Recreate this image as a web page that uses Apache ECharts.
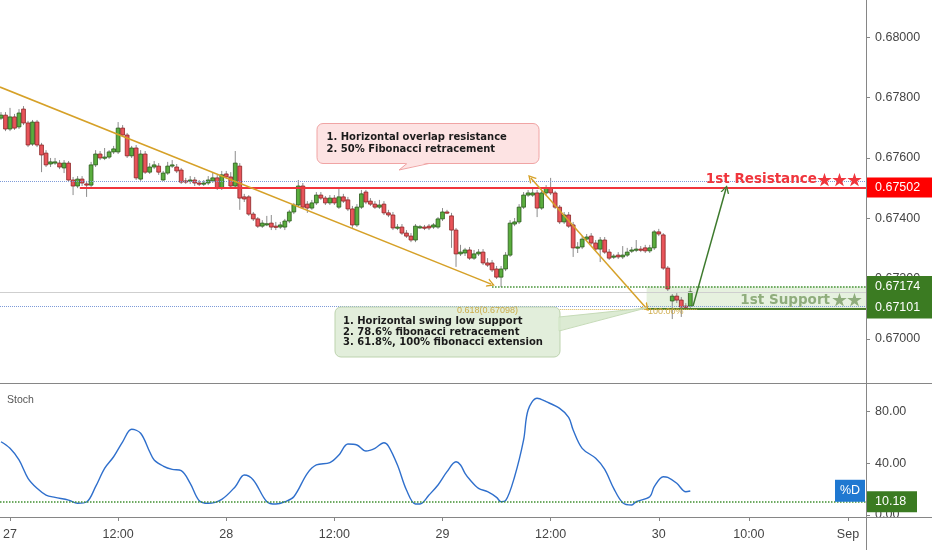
<!DOCTYPE html>
<html><head><meta charset="utf-8">
<script src="https://cdn.jsdelivr.net/npm/echarts@6/dist/echarts.min.js"></script>
<style>html,body{margin:0;padding:0;background:#fff}#c{width:932px;height:550px}</style>
</head><body><div id="c"></div>
<script>
// ---- data: 30-minute bars, index counted from 27 00:00 ----
const firstIndex = -2;
// [open, close, low, high]
const candles = [
[0.67732,0.67742,0.67726,0.67752],[0.67742,0.67696,0.67689,0.67752],[0.67696,0.67736,0.67689,0.67766],[0.67736,0.67699,0.67693,0.67746],
[0.67703,0.67749,0.67696,0.67762],[0.67762,0.67716,0.67709,0.67772],[0.67716,0.67643,0.67636,0.67723],[0.67646,0.67719,0.67640,0.67726],
[0.67719,0.67643,0.67636,0.67726],[0.67643,0.67610,0.67553,0.67650],[0.67616,0.67577,0.67570,0.67626],[0.67580,0.67587,0.67570,0.67600],
[0.67583,0.67587,0.67577,0.67600],[0.67583,0.67570,0.67563,0.67593],[0.67567,0.67583,0.67550,0.67593],[0.67583,0.67527,0.67520,0.67590],
[0.67527,0.67507,0.67477,0.67537],[0.67507,0.67530,0.67500,0.67540],[0.67530,0.67517,0.67507,0.67540],[0.67514,0.67510,0.67471,0.67524],
[0.67510,0.67577,0.67504,0.67587],[0.67577,0.67613,0.67570,0.67626],[0.67613,0.67600,0.67593,0.67623],[0.67600,0.67603,0.67593,0.67633],
[0.67603,0.67620,0.67597,0.67626],[0.67620,0.67630,0.67613,0.67640],[0.67620,0.67699,0.67613,0.67719],[0.67699,0.67676,0.67670,0.67709],
[0.67676,0.67607,0.67600,0.67683],[0.67607,0.67633,0.67600,0.67640],[0.67633,0.67534,0.67527,0.67643],[0.67530,0.67613,0.67524,0.67626],
[0.67613,0.67553,0.67547,0.67623],[0.67553,0.67570,0.67547,0.67583],[0.67570,0.67577,0.67563,0.67590],[0.67573,0.67553,0.67544,0.67583],
[0.67527,0.67550,0.67524,0.67557],[0.67550,0.67573,0.67544,0.67587],[0.67573,0.67577,0.67567,0.67593],[0.67570,0.67557,0.67550,0.67580],
[0.67560,0.67520,0.67514,0.67567],[0.67524,0.67520,0.67514,0.67534],[0.67524,0.67527,0.67514,0.67540],[0.67527,0.67517,0.67507,0.67537],
[0.67517,0.67514,0.67507,0.67527],[0.67514,0.67517,0.67507,0.67527],[0.67517,0.67527,0.67510,0.67540],[0.67524,0.67534,0.67517,0.67553],
[0.67534,0.67500,0.67494,0.67544],[0.67500,0.67544,0.67494,0.67557],[0.67547,0.67537,0.67530,0.67557],[0.67537,0.67507,0.67500,0.67553],
[0.67507,0.67583,0.67500,0.67623],[0.67573,0.67467,0.67428,0.67583],[0.67471,0.67464,0.67454,0.67481],[0.67471,0.67414,0.67408,0.67477],
[0.67414,0.67398,0.67391,0.67421],[0.67398,0.67374,0.67368,0.67404],[0.67374,0.67384,0.67368,0.67394],[0.67381,0.67382,0.67374,0.67408],
[0.67384,0.67371,0.67361,0.67411],[0.67374,0.67371,0.67361,0.67388],[0.67371,0.67378,0.67365,0.67388],[0.67371,0.67391,0.67361,0.67398],
[0.67391,0.67421,0.67384,0.67428],[0.67421,0.67444,0.67414,0.67451],[0.67444,0.67507,0.67437,0.67527],[0.67507,0.67437,0.67431,0.67517],
[0.67447,0.67434,0.67418,0.67457],[0.67434,0.67451,0.67428,0.67461],[0.67451,0.67477,0.67444,0.67487],[0.67477,0.67467,0.67461,0.67487],
[0.67467,0.67451,0.67444,0.67474],[0.67451,0.67467,0.67444,0.67477],[0.67467,0.67451,0.67444,0.67477],[0.67437,0.67471,0.67431,0.67500],
[0.67471,0.67457,0.67451,0.67481],[0.67461,0.67431,0.67424,0.67471],[0.67431,0.67378,0.67368,0.67441],[0.67378,0.67437,0.67371,0.67447],
[0.67437,0.67481,0.67431,0.67494],[0.67487,0.67454,0.67447,0.67494],[0.67457,0.67447,0.67441,0.67467],[0.67447,0.67437,0.67431,0.67457],
[0.67437,0.67444,0.67431,0.67461],[0.67447,0.67418,0.67411,0.67457],[0.67418,0.67411,0.67404,0.67428],[0.67411,0.67368,0.67361,0.67421],
[0.67368,0.67371,0.67361,0.67381],[0.67371,0.67351,0.67345,0.67381],[0.67351,0.67341,0.67335,0.67361],[0.67341,0.67328,0.67321,0.67351],
[0.67328,0.67374,0.67321,0.67381],[0.67371,0.67372,0.67365,0.67378],[0.67371,0.67368,0.67361,0.67378],[0.67374,0.67368,0.67361,0.67381],
[0.67371,0.67378,0.67365,0.67384],[0.67371,0.67398,0.67365,0.67404],[0.67398,0.67421,0.67391,0.67434],[0.67421,0.67420,0.67414,0.67428],
[0.67408,0.67361,0.67302,0.67418],[0.67361,0.67282,0.67239,0.67368],[0.67282,0.67288,0.67275,0.67312],[0.67285,0.67295,0.67275,0.67302],
[0.67295,0.67268,0.67262,0.67305],[0.67268,0.67282,0.67262,0.67295],[0.67282,0.67288,0.67275,0.67298],[0.67288,0.67252,0.67245,0.67298],
[0.67252,0.67245,0.67239,0.67268],[0.67252,0.67229,0.67222,0.67262],[0.67232,0.67205,0.67199,0.67242],[0.67205,0.67232,0.67172,0.67242],
[0.67232,0.67278,0.67225,0.67288],[0.67278,0.67384,0.67272,0.67394],[0.67381,0.67388,0.67374,0.67401],[0.67388,0.67437,0.67381,0.67447],
[0.67437,0.67477,0.67431,0.67487],[0.67477,0.67484,0.67471,0.67494],[0.67477,0.67484,0.67471,0.67500],[0.67484,0.67434,0.67404,0.67494],
[0.67434,0.67484,0.67428,0.67494],[0.67484,0.67500,0.67477,0.67510],[0.67500,0.67484,0.67477,0.67534],[0.67484,0.67437,0.67431,0.67491],
[0.67437,0.67388,0.67381,0.67444],[0.67388,0.67411,0.67381,0.67421],[0.67411,0.67374,0.67368,0.67421],[0.67378,0.67302,0.67272,0.67388],
[0.67302,0.67305,0.67285,0.67321],[0.67305,0.67331,0.67298,0.67341],[0.67331,0.67338,0.67328,0.67348],[0.67341,0.67318,0.67312,0.67351],
[0.67318,0.67298,0.67292,0.67328],[0.67298,0.67328,0.67255,0.67338],[0.67328,0.67288,0.67282,0.67338],[0.67288,0.67268,0.67262,0.67298],
[0.67272,0.67275,0.67265,0.67282],[0.67278,0.67272,0.67265,0.67288],[0.67272,0.67278,0.67265,0.67308],[0.67278,0.67288,0.67272,0.67302],
[0.67292,0.67295,0.67285,0.67305],[0.67295,0.67298,0.67288,0.67328],[0.67298,0.67295,0.67288,0.67308],[0.67302,0.67292,0.67285,0.67312],
[0.67292,0.67302,0.67285,0.67312],[0.67302,0.67355,0.67295,0.67361],[0.67355,0.67348,0.67341,0.67365],[0.67345,0.67235,0.67229,0.67351],
[0.67235,0.67166,0.67159,0.67242],[0.67126,0.67142,0.67066,0.67149],[0.67142,0.67129,0.67119,0.67152],[0.67129,0.67106,0.67073,0.67139],
[0.67109,0.67106,0.67099,0.67119],[0.67109,0.67156,0.67103,0.67169]
];
const stochIdx = [-2,0,2,4,6,8,10,13,15,17,19,21,23,25,27,29,31,32,34,36,38,40,42,44,47,50,52,54,57,59,61,63,66,68,71,73,75,77,79,81,83,84,86,88,90,91,93,95,97,99,100,101,102,104,106,108,109,110,112,114,115,117,119,122,124,125,127,130,132,134,136,138,139,142,143,145,146,148,150,151];
const stochVal = [56.7,51.6,42.6,28.4,20.6,15.4,13.6,11.5,9.0,10.0,21.9,36.1,45.1,56.7,66.4,63.3,49.0,42.6,37.9,35.3,34.3,24.5,11.0,9.0,12.1,21.9,30.9,27.1,10.2,8.4,10.2,14.1,32.2,38.7,40.5,46.4,55.0,54.2,49.5,51.6,56.0,53.4,38.7,19.3,8.4,8.4,15.4,23.2,33.5,41.2,38.7,32.2,27.6,20.6,18.0,13.6,10.2,11.0,29.6,58.1,81.3,90.4,87.8,82.6,75.7,65.8,51.6,43.9,35.3,20.6,9.5,7.7,10.2,14.1,21.9,29.6,29.1,24.5,18.0,18.5];
const timeTickIdx = [0,24,48,72,96,120,144,164,186];
const timeTickLabels = ['27','12:00','28','12:00','29','12:00','30','10:00','Sep'];
const priceTicks = [0.670,0.672,0.674,0.676,0.678,0.680];
const stochTicks = [0,40,80];
const resistance = 0.67502, supportTop = 0.67174, support = 0.67101;
const blueLevels = [0.67524, 0.67107];
const grayLevel = 0.67154;
const fibLevel = 0.67098;
const stochLast = 10.18;
const trendLong = [[-2.22,0.67835],[106.8,0.67182]];
const fibLine = [[115.6,0.67534],[141.2,0.67103]];
const targetArrow = [[151.6,0.67109],[158.9,0.67497]];

// ---- chart ----
const X_MIN = -2.22, X_MAX = 190;
const Y0_MIN = 0.668541, Y0_MAX = 0.681236;
const Y1_MIN = -1.63, Y1_MAX = 101.5;
const AX = 'Liberation Sans', AN = 'DejaVu Sans', STAR = 'Noto Sans CJK SC';
const UP = '#5aad3e', UPB = '#2a5a1a', DN = '#e8545a', DNB = '#8b2424', WICK = '#8c8c8c';
const chevron = 'path://M0,10 L5,0 L10,10 L8.3,10 L5,3.4 L1.7,10 Z';

const candleData = candles.map((r,k)=>[firstIndex+k, r[0], r[1], r[2], r[3]]);
const stochData = stochIdx.map((x,k)=>[x, stochVal[k]]);

function seg(a,b,color,width,type,s0,s1){
  return [{coord:a, symbol:s0||'none', symbolSize:[9,8], lineStyle:{color:color,width:width,type:type}},
          {coord:b, symbol:s1||'none', symbolSize:[9,8]}];
}

const chart = echarts.init(document.getElementById('c'), null, {width:932, height:550});
const tickStyle = {color:'#868686'};
const option = {
  animation:false,
  backgroundColor:'#ffffff',
  grid:[{left:0, top:0, width:866, height:383},{left:0, top:384, width:866, height:133}],
  xAxis:[
    {type:'value', gridIndex:0, min:X_MIN, max:X_MAX, show:false, axisLine:{onZero:false}},
    {type:'value', gridIndex:1, min:X_MIN, max:X_MAX, position:'bottom',
     axisLine:{show:false, onZero:false}, splitLine:{show:false},
     axisTick:{show:true, customValues:timeTickIdx, length:4, lineStyle:tickStyle},
     axisLabel:{customValues:timeTickIdx, margin:11, color:'#454545', fontSize:12.5, fontFamily:AX,
       formatter:function(v){const k=timeTickIdx.indexOf(Math.round(v));return k>=0?timeTickLabels[k]:'';}}}
  ],
  yAxis:[
    {type:'value', gridIndex:0, position:'right', min:Y0_MIN, max:Y0_MAX, scale:true,
     axisLine:{show:false, onZero:false}, splitLine:{show:false},
     axisTick:{show:true, customValues:priceTicks, length:4, lineStyle:tickStyle},
     axisLabel:{customValues:priceTicks, margin:9, color:'#454545', fontSize:12.5, fontFamily:AX,
       formatter:function(v){return v.toFixed(5);}}},
    {type:'value', gridIndex:1, position:'right', min:Y1_MIN, max:Y1_MAX,
     axisLine:{show:false, onZero:false}, splitLine:{show:false},
     axisTick:{show:true, customValues:stochTicks, length:4, lineStyle:tickStyle},
     axisLabel:{customValues:stochTicks, margin:9, color:'#454545', fontSize:12.5, fontFamily:AX,
       formatter:function(v){return v.toFixed(2);}}}
  ],
  series:[
    {type:'custom', xAxisIndex:0, yAxisIndex:0, z:2, clip:true, data:candleData,
     encode:{x:0, y:[1,2,3,4]},
     renderItem:function(params, api){
       const x=api.value(0), o=api.value(1), c=api.value(2), l=api.value(3), h=api.value(4);
       const pO=api.coord([x,o]), pC=api.coord([x,c]), pL=api.coord([x,l]), pH=api.coord([x,h]);
       const up = c>=o, w=3.8;
       const top=Math.min(pO[1],pC[1]), bh=Math.max(Math.abs(pO[1]-pC[1]),1.2);
       return {type:'group', children:[
         {type:'line', shape:{x1:pH[0],y1:pH[1],x2:pL[0],y2:pL[1]}, style:{stroke:WICK,lineWidth:1}},
         {type:'rect', shape:{x:pO[0]-w/2,y:top,width:w,height:bh}, style:{fill:up?UP:DN, stroke:up?UPB:DNB, lineWidth:0.8}}
       ]};
     }},
    {type:'line', xAxisIndex:0, yAxisIndex:0, z:4, data:[[X_MIN,resistance]], symbol:'none', lineStyle:{width:0}, silent:true,
     markArea:{silent:true, data:[[{coord:[141.3,supportTop], itemStyle:{color:'rgba(140,190,110,0.22)'}},{coord:[X_MAX,support]}]]},
     markLine:{silent:true, symbol:['none','none'], label:{show:false}, emphasis:{disabled:true},
      data:[
        seg([X_MIN,blueLevels[0]],[X_MAX,blueLevels[0]],'#7d9ad8',1,'dotted'),
        seg([X_MIN,blueLevels[1]],[X_MAX,blueLevels[1]],'#7d9ad8',1,'dotted'),
        seg([X_MIN,grayLevel],[X_MAX,grayLevel],'#cfcfcf',1,'solid'),
        seg([15.5,resistance],[X_MAX,resistance],'#f0353c',2,'solid'),
        seg([107,supportTop],[X_MAX,supportTop],'#3f8f2f',1.5,'dotted'),
        seg([141.3,support],[X_MAX,support],'#4b7d2b',2,'solid'),
        seg([99.5,fibLevel],[152.5,fibLevel],'#d8b24c',1,'dotted'),
        seg(trendLong[0],trendLong[1],'#d6a128',1.5,'solid','none',chevron),
        seg(fibLine[0],fibLine[1],'#d6a128',1.5,'solid',chevron,chevron),
        seg(targetArrow[0],targetArrow[1],'#3d7a2d',1.5,'solid','none',chevron)
      ]}},
    {type:'line', xAxisIndex:1, yAxisIndex:1, z:3, data:stochData, smooth:0.35, showSymbol:false, symbol:'none',
     lineStyle:{color:'#2f6fcc', width:1.4},
     markLine:{silent:true, symbol:['none','none'], label:{show:false},
       data:[seg([X_MIN,stochLast],[X_MAX,stochLast],'#3f8f2f',1.5,'dotted')]}}
  ]
};
chart.setOption(option);

const yOf = (v, gi) => chart.convertToPixel({gridIndex:gi}, [0, v])[1];
function txt(x,y,s,font,fill,align){
  return {type:'text', z:100, x:x, y:y, style:{text:s, font:font, fill:fill, align:align||'left', verticalAlign:'middle', textAlign:align||'left', textVerticalAlign:'middle'}};
}
const yRes = yOf(resistance,0), ySupT = yOf(supportTop,0), ySup = yOf(support,0), yStoch = yOf(stochLast,1);
const fAx = '12.5px "' + AX + '"';
const fBox = 'bold 10px "' + AN + '"';
const fTitle = 'bold 13.5px "' + AN + '"';
const fStar = 'bold 15px "' + STAR + '"';
const graphics = [
  {type:'line', z:90, shape:{x1:0,y1:383.5,x2:932,y2:383.5}, style:{stroke:'#868686',lineWidth:1}},
  {type:'line', z:90, shape:{x1:0,y1:517.5,x2:932,y2:517.5}, style:{stroke:'#868686',lineWidth:1}},
  {type:'line', z:90, shape:{x1:866.5,y1:0,x2:866.5,y2:550}, style:{stroke:'#868686',lineWidth:1}},
  // callout 1
  {type:'rect', z:95, shape:{x:317,y:123.5,width:222,height:40,r:6}, style:{fill:'#fde3e3', stroke:'#f0a4a4', lineWidth:1}},
  {type:'polygon', z:96, shape:{points:[[399,170],[407,162.5],[429,162.5]]}, style:{fill:'#fde3e3'}},
  {type:'polyline', z:96, shape:{points:[[407,163.5],[399,170],[429,163.5]]}, style:{stroke:'#f0a4a4', lineWidth:1, fill:null}},
  txt(326.5,137.3,'1. Horizontal overlap resistance',fBox,'#1b1b1b'),
  txt(326.5,149.3,'2. 50% Fibonacci retracement',fBox,'#1b1b1b'),
  // callout 2
  {type:'rect', z:95, shape:{x:335,y:307,width:225,height:50,r:6}, style:{fill:'#e2eedb', stroke:'#bdd3ae', lineWidth:1}},
  {type:'polygon', z:96, shape:{points:[[558,317],[646,308],[558,331]]}, style:{fill:'rgba(214,232,203,0.85)'}},
  {type:'polyline', z:96, shape:{points:[[559,317],[646,308],[559,331]]}, style:{stroke:'#c6dbb8', lineWidth:1, fill:null}},
  txt(343,321.7,'1. Horizontal swing low support',fBox,'#1b1b1b'),
  txt(343,332.3,'2. 78.6% fibonacci retracement',fBox,'#1b1b1b'),
  txt(343,342.8,'3. 61.8%, 100% fibonacci extension',fBox,'#1b1b1b'),
  // fib labels
  txt(457,310.5,'0.618(' + fibLevel.toFixed(5) + ')','9px "' + AX + '"','rgba(200,160,50,0.85)'),
  txt(648,311.5,'100.00%','9px "' + AX + '"','rgba(200,160,50,0.85)'),
  // level titles
  txt(817,179.5,'1st Resistance',fTitle,'#f0353c','right'),
  txt(862,179,'★★★',fStar,'#f0353c','right'),
  txt(830,300,'1st Support',fTitle,'#8fad7c','right'),
  txt(862,299.5,'★★',fStar,'#8fad7c','right'),
  // stoch title
  txt(7,400,'Stoch','10.5px "' + AX + '"','#555555'),
  // price tags
  {type:'rect', z:97, shape:{x:867,y:yRes-10,width:65,height:20}, style:{fill:'#ff0000'}},
  txt(875,yRes,resistance.toFixed(5),fAx,'#ffffff'),
  {type:'rect', z:97, shape:{x:867,y:ySupT-10.5,width:65,height:ySup-ySupT+20.5}, style:{fill:'#3b7b22'}},
  txt(875,ySupT+0.5,supportTop.toFixed(5),fAx,'#ffffff'),
  txt(875,ySup-1,support.toFixed(5),fAx,'#ffffff'),
  {type:'rect', z:97, shape:{x:835,y:yStoch-22,width:30,height:22}, style:{fill:'#1f78d1'}},
  txt(850,yStoch-11,'%D',fAx,'#ffffff','center'),
  {type:'rect', z:97, shape:{x:867,y:yStoch-10.5,width:50,height:21}, style:{fill:'#3b7b22'}},
  txt(875,yStoch,stochLast.toFixed(2),fAx,'#ffffff')
];
chart.setOption({graphic:{elements:graphics}});
</script>
</body></html>
